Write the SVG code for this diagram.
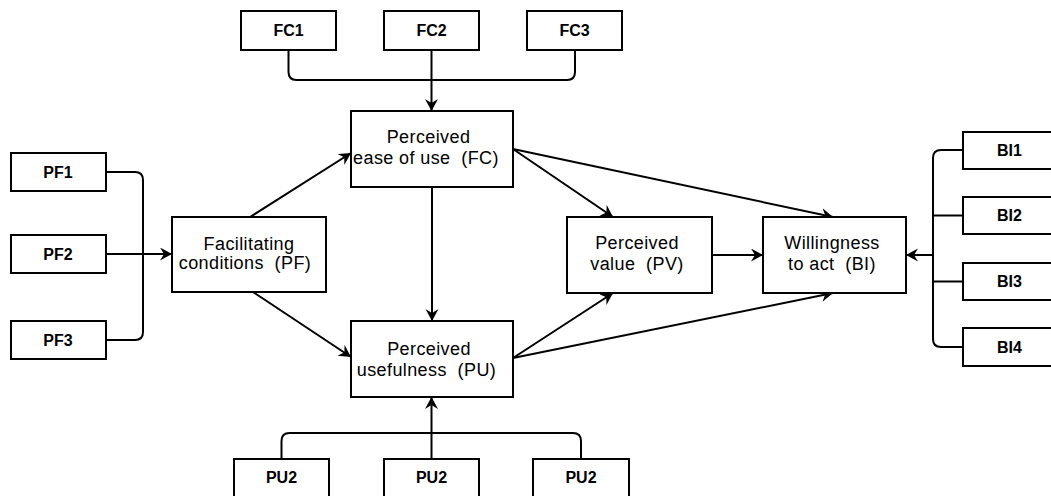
<svg xmlns="http://www.w3.org/2000/svg" width="1051" height="496" viewBox="0 0 1051 496">
<style>
.box{fill:#fff;stroke:#000;stroke-width:2}
.sm{font-family:"Liberation Sans",Arial,sans-serif;font-size:16px;font-weight:bold;text-anchor:middle;fill:#000}
.lg{font-family:"Liberation Sans",Arial,sans-serif;font-size:18px;letter-spacing:0.4px;text-anchor:middle;fill:#000;white-space:pre}
.ln{fill:none;stroke:#000;stroke-width:2}
</style>
<defs>
<marker id="ar" markerUnits="userSpaceOnUse" markerWidth="16" markerHeight="14" refX="12" refY="6.5" orient="auto">
<path d="M0,0 L12,6.5 L0,13 L4,6.5 Z" fill="#000"/>
</marker>
</defs>
<rect width="1051" height="496" fill="#fff"/>
<g id="connectors">
<path class="ln" d="M288.5,50 V72 Q288.5,80 296.5,80 H567 Q575,80 575,72 V50"/>
<path class="ln" d="M431.5,50 V111" marker-end="url(#ar)"/>
<path class="ln" d="M106,172 H135 Q143,172 143,180 V332 Q143,340 135,340 H106"/>
<path class="ln" d="M106,254 H172" marker-end="url(#ar)"/>
<path class="ln" d="M250,217 L351,153" marker-end="url(#ar)"/>
<path class="ln" d="M253,292 L351,357" marker-end="url(#ar)"/>
<path class="ln" d="M432,187 V321" marker-end="url(#ar)"/>
<path class="ln" d="M513,149 L613,217" marker-end="url(#ar)"/>
<path class="ln" d="M513,149 L833,217" marker-end="url(#ar)"/>
<path class="ln" d="M513,358 L613,293" marker-end="url(#ar)"/>
<path class="ln" d="M513,358 L833,293" marker-end="url(#ar)"/>
<path class="ln" d="M712,255 H763" marker-end="url(#ar)"/>
<path class="ln" d="M963,150 H941 Q933,150 933,158 V339 Q933,347 941,347 H963"/>
<path class="ln" d="M933,215.5 H963 M933,281.5 H963"/>
<path class="ln" d="M933,255 H906" marker-end="url(#ar)"/>
<path class="ln" d="M281.5,459 V441 Q281.5,433 289.5,433 H573 Q581,433 581,441 V459"/>
<path class="ln" d="M431.5,459 V397" marker-end="url(#ar)"/>
</g>
<g id="FC1"><rect class="box" x="241" y="11" width="95" height="39"/><text class="sm" x="288.5" y="36">FC1</text></g>
<g id="FC2"><rect class="box" x="384" y="11" width="95" height="39"/><text class="sm" x="431.5" y="36">FC2</text></g>
<g id="FC3"><rect class="box" x="527" y="11" width="95" height="39"/><text class="sm" x="574.5" y="36">FC3</text></g>
<g id="PF1"><rect class="box" x="11" y="153" width="95" height="38"/><text class="sm" x="58" y="178">PF1</text></g>
<g id="PF2"><rect class="box" x="11" y="235" width="95" height="38"/><text class="sm" x="58" y="260">PF2</text></g>
<g id="PF3"><rect class="box" x="11" y="321" width="95" height="38"/><text class="sm" x="58" y="346">PF3</text></g>
<g id="PF"><rect class="box" x="172" y="217" width="154" height="75"/><text class="lg" x="249" y="250">Facilitating</text><text class="lg" x="245" y="269" xml:space="preserve">conditions  (PF)</text></g>
<g id="FC"><rect class="box" x="351" y="111" width="162" height="76"/><text class="lg" x="428.5" y="143">Perceived</text><text class="lg" x="426" y="164" xml:space="preserve">ease of use  (FC)</text></g>
<g id="PU"><rect class="box" x="351" y="321" width="162" height="76"/><text class="lg" x="429" y="355">Perceived</text><text class="lg" x="426.5" y="376" xml:space="preserve">usefulness  (PU)</text></g>
<g id="PV"><rect class="box" x="567" y="217" width="145" height="76"/><text class="lg" x="637" y="249">Perceived</text><text class="lg" x="637" y="270" xml:space="preserve">value  (PV)</text></g>
<g id="BI"><rect class="box" x="763" y="217" width="143" height="76"/><text class="lg" x="832" y="249">Willingness</text><text class="lg" x="832" y="270" xml:space="preserve">to act  (BI)</text></g>
<g id="BI1"><rect class="box" x="963" y="132" width="95" height="37"/><text class="sm" x="1009.5" y="156">BI1</text></g>
<g id="BI2"><rect class="box" x="963" y="197" width="95" height="37"/><text class="sm" x="1009.5" y="221">BI2</text></g>
<g id="BI3"><rect class="box" x="963" y="263" width="95" height="37"/><text class="sm" x="1009.5" y="287">BI3</text></g>
<g id="BI4"><rect class="box" x="963" y="328" width="95" height="38"/><text class="sm" x="1009.5" y="353">BI4</text></g>
<g id="PU2a"><rect class="box" x="234" y="459" width="95" height="39"/><text class="sm" x="281.5" y="483">PU2</text></g>
<g id="PU2b"><rect class="box" x="384" y="459" width="95" height="39"/><text class="sm" x="431.5" y="483">PU2</text></g>
<g id="PU2c"><rect class="box" x="533" y="459" width="96" height="39"/><text class="sm" x="581" y="483">PU2</text></g>
</svg>
